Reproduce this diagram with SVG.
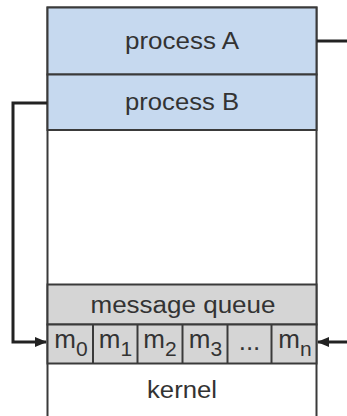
<svg xmlns="http://www.w3.org/2000/svg" width="347" height="416" viewBox="0 0 347 416">
<style>
.lbl{font-family:"Liberation Sans",Arial,sans-serif;fill:#333;text-anchor:middle}
.big{font-size:23px}
.cell{font-size:26px}
.sub{font-size:21px}
.bd{stroke:#3a3a3a;stroke-width:2}
.conn{fill:none;stroke:#222;stroke-width:3}
</style>
<defs>
<marker id="ah" viewBox="0 0 12 10" refX="11" refY="5" markerWidth="12" markerHeight="10" markerUnits="userSpaceOnUse" orient="auto">
<path d="M0,0 L12,5 L0,10 z" fill="#222"/>
</marker>
</defs>
<rect x="47.5" y="7.5" width="269" height="410" fill="#fff" class="bd"/>
<g id="processA">
<rect x="47.5" y="7.5" width="269" height="67" fill="#c6d9ef" class="bd"/>
<text class="lbl big" x="182" y="49" textLength="114" lengthAdjust="spacingAndGlyphs">process A</text>
</g>
<g id="processB">
<rect x="47.5" y="74.5" width="269" height="55.5" fill="#c6d9ef" class="bd"/>
<text class="lbl big" x="182" y="110" textLength="114" lengthAdjust="spacingAndGlyphs">process B</text>
</g>
<g id="messageQueue">
<rect x="47.5" y="284.5" width="269" height="40" fill="#d5d5d5" class="bd"/>
<text class="lbl big" x="183" y="313" textLength="185" lengthAdjust="spacingAndGlyphs">message queue</text>
</g>
<g id="cells">
<rect x="47.5" y="324.5" width="269" height="39" fill="#d5d5d5" class="bd"/>
<line x1="93" y1="324.5" x2="93" y2="363.5" class="bd"/>
<line x1="137.5" y1="324.5" x2="137.5" y2="363.5" class="bd"/>
<line x1="182.5" y1="324.5" x2="182.5" y2="363.5" class="bd"/>
<line x1="227.5" y1="324.5" x2="227.5" y2="363.5" class="bd"/>
<line x1="271.5" y1="324.5" x2="271.5" y2="363.5" class="bd"/>
<text class="lbl cell" x="71" y="348">m<tspan class="sub" dy="8">0</tspan></text>
<text class="lbl cell" x="115.5" y="348">m<tspan class="sub" dy="8">1</tspan></text>
<text class="lbl cell" x="160" y="348">m<tspan class="sub" dy="8">2</tspan></text>
<text class="lbl cell" x="205.5" y="348">m<tspan class="sub" dy="8">3</tspan></text>
<text class="lbl cell" x="249.5" y="350" font-size="22">...</text>
<text class="lbl cell" x="295" y="348">m<tspan class="sub" dy="8">n</tspan></text>
</g>
<g id="kernel">
<text class="lbl big" x="182" y="398" textLength="70" lengthAdjust="spacingAndGlyphs">kernel</text>
</g>
<g id="connectors">
<path class="conn" d="M317,41 H347"/>
<path class="conn" d="M47,103 H13 V342 H46" marker-end="url(#ah)"/>
<path class="conn" d="M347,342 H318" marker-end="url(#ah)"/>
</g>
</svg>
